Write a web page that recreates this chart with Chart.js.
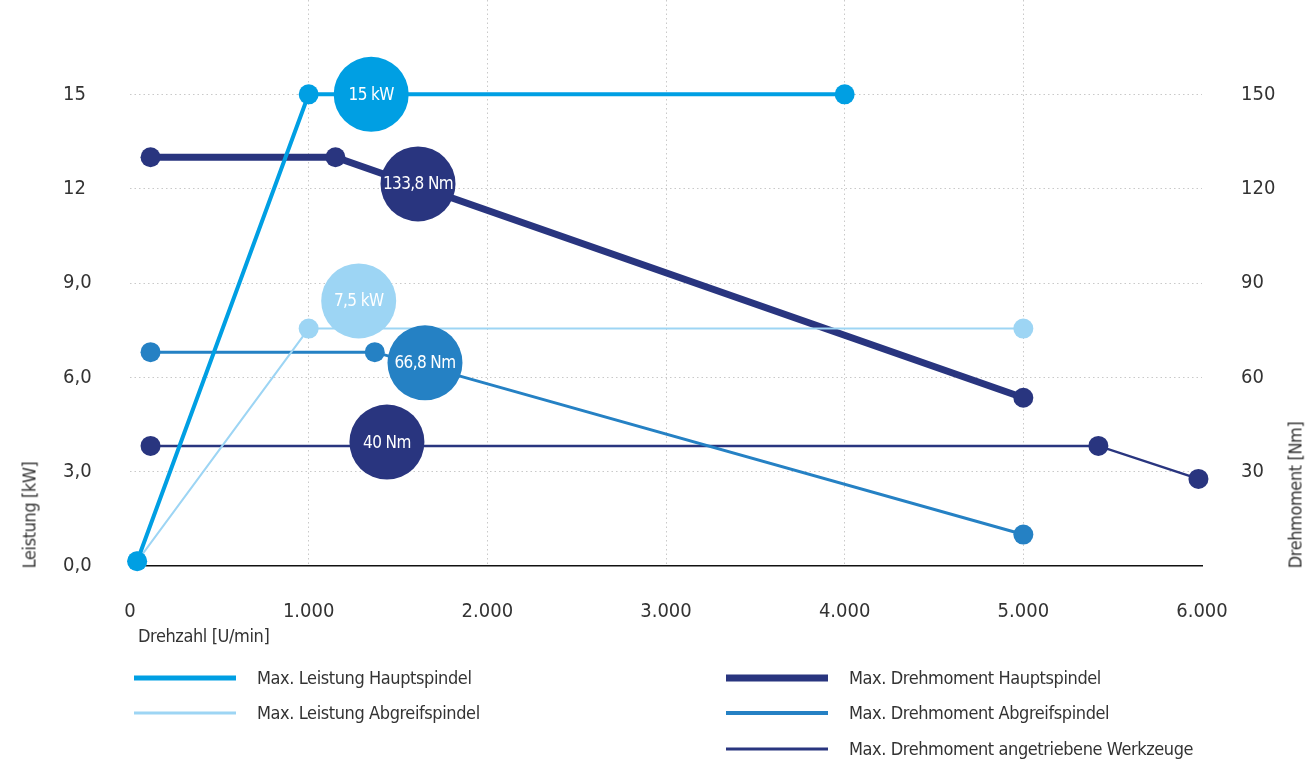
<!DOCTYPE html>
<html>
<head>
<meta charset="utf-8">
<script src="https://cdn.jsdelivr.net/npm/chart.js@4.4.1/dist/chart.umd.min.js"></script>
<style>
  body { margin:0; background:#fff; }
  #wrap { position:relative; width:1313px; height:764px; font-family:"Liberation Sans Narrow","DejaVu Sans Condensed",sans-serif; color:#333; }
  canvas { position:absolute; left:0; top:0; }
  .ttl { position:absolute; font-size:18px; letter-spacing:-0.4px; white-space:nowrap; }
  .rot { transform:translate(-50%,-50%) rotate(-90deg); }
  .leg { position:absolute; font-size:18px; letter-spacing:-0.4px; white-space:nowrap; transform:translateY(-50%); }
  .sw { position:absolute; width:102px; transform:translateY(-50%); }
</style>
</head>
<body>
<div id="wrap">
  <canvas id="chart" width="1313" height="764"></canvas>
  <div class="ttl rot" style="left:29px;top:515px">Leistung [kW]</div>
  <div class="ttl rot" style="left:1295px;top:495px">Drehmoment [Nm]</div>
  <div class="ttl" style="left:138px;top:625px">Drehzahl [U/min]</div>
  <div id="legend"></div>
</div>
<script>
// Drehzahl ticks
var xTicks = [0, 1000, 2000, 3000, 4000, 5000, 6000]
var xTickLabels = ['0', '1.000', '2.000', '3.000', '4.000', '5.000', '6.000']
var leftTicks = [0, 3, 6, 9, 12, 15]
var leftTickLabels = ['0,0', '3,0', '6,0', '9,0', '12', '15']
var rightTicks = [30, 60, 90, 120, 150]
var rightTickLabels = ['30', '60', '90', '120', '150']

// Leistung [kW]
var lHauptX = [40, 1000, 4000]
var lHauptY = [0.15, 15, 15]
var lAbgrX = [40, 1000, 5000]
var lAbgrY = [0.15, 7.55, 7.55]
// Drehmoment [Nm]
var mHauptX = [115, 1150, 5000]
var mHauptY = [130, 130, 53.5]
var mAbgrX = [115, 1370, 5000]
var mAbgrY = [68, 68, 10]
var mWerkX = [115, 5420, 5980]
var mWerkY = [38.2, 38.2, 27.7]

// Bubbles
var kwBubbleLabels = ['15 kW', '7,5 kW']
var kwBubbleX = [1350, 1280]
var kwBubbleY = [15, 8.43]
var nmBubbleLabels = ['133,8 Nm', '66,8 Nm', '40 Nm']
var nmBubbleX = [1612, 1651, 1438]
var nmBubbleY = [121.5, 64.6, 39.4]

var legendNames = ['Max. Leistung Hauptspindel', 'Max. Leistung Abgreifspindel',
  'Max. Drehmoment Hauptspindel', 'Max. Drehmoment Abgreifspindel', 'Max. Drehmoment angetriebene Werkzeuge']

var cLight = '#009fe3', cPale = '#9dd5f4', cNavy = '#29357f', cMid = '#2581c4'
var fontFam = '"Liberation Sans Narrow", "DejaVu Sans Condensed", sans-serif'

function pts(xs, ys){
  var out = []
  for (var i = 0; i < xs.length; i++) out.push({x: xs[i], y: ys[i]})
  return out
}

function lineSet(label, xs, ys, color, width, axis, order){
  return {
    label: label, data: pts(xs, ys), yAxisID: axis, order: order,
    showLine: true, borderColor: color, backgroundColor: color, borderWidth: width,
    pointRadius: 10, pointBackgroundColor: color, pointBorderWidth: 0, pointHoverRadius: 10
  }
}

var bubbleText = {
  id: 'bubbleText',
  afterDatasetsDraw: function(chart){
    var ctx = chart.ctx
    ctx.save()
    ctx.fillStyle = '#fff'
    ctx.font = '17px ' + fontFam
    ctx.letterSpacing = '-0.6px'
    ctx.textAlign = 'center'
    ctx.textBaseline = 'middle'
    chart.data.datasets.forEach(function(ds, di){
      if (!ds.texts) return
      chart.getDatasetMeta(di).data.forEach(function(el, i){
        ctx.fillText(ds.texts[i], el.x, el.y + 1)
      })
    })
    ctx.restore()
  }
}

Chart.defaults.font.family = fontFam
Chart.defaults.font.size = 20
Chart.defaults.color = '#333'

var ctx = document.getElementById('chart')
var chart = new Chart(ctx, {
  type: 'scatter',
  data: {
    datasets: [
      { data: pts(kwBubbleX, kwBubbleY), texts: kwBubbleLabels, yAxisID: 'yL', order: 0,
        pointRadius: 37.5, pointHoverRadius: 37.5, borderWidth: 0,
        pointBackgroundColor: [cLight, cPale] },
      { data: pts(nmBubbleX, nmBubbleY), texts: nmBubbleLabels, yAxisID: 'yR', order: 0,
        pointRadius: 37.5, pointHoverRadius: 37.5, borderWidth: 0,
        pointBackgroundColor: [cNavy, cMid, cNavy] },
      lineSet(legendNames[0], lHauptX, lHauptY, cLight, 4, 'yL', 1),
      lineSet(legendNames[1], lAbgrX, lAbgrY, cPale, 2, 'yL', 2),
      lineSet(legendNames[2], mHauptX, mHauptY, cNavy, 7, 'yR', 3),
      lineSet(legendNames[3], mAbgrX, mAbgrY, cMid, 3, 'yR', 4),
      lineSet(legendNames[4], mWerkX, mWerkY, cNavy, 2.5, 'yR', 5)
    ]
  },
  options: {
    responsive: false,
    animation: false,
    clip: false,
    layout: { autoPadding: false, padding: { left: 63, right: 0, top: 0, bottom: 0 } },
    plugins: { legend: { display: false }, tooltip: { enabled: false } },
    scales: {
      x: {
        type: 'linear', min: 0, max: 6000,
        afterFit: function(s){ s.height = 198; s.paddingLeft = 0; s.paddingRight = 0 },
        afterBuildTicks: function(s){ s.ticks = xTicks.map(function(v){ return {value: v} }) },
        ticks: { padding: 34, callback: function(v){ return xTickLabels[xTicks.indexOf(v)] } },
        grid: { drawTicks: false, lineWidth: 1,
          color: function(c){ return (c.tick && (c.tick.value === 0 || c.tick.value === 6000)) ? 'rgba(0,0,0,0)' : '#c9c9c9' } },
        border: { display: true, color: '#111', width: 1.5, dash: [1.5, 3] }
      },
      yL: {
        type: 'linear', position: 'left', min: 0, max: 18,
        afterFit: function(s){ s.width = 67; s.paddingTop = 0; s.paddingBottom = 0 },
        afterBuildTicks: function(s){ s.ticks = leftTicks.map(function(v){ return {value: v} }) },
        ticks: { crossAlign: 'far', callback: function(v){ return leftTickLabels[leftTicks.indexOf(v)] } },
        grid: { drawTicks: false, lineWidth: 1,
          color: function(c){ return (c.tick && c.tick.value === 0) ? 'rgba(0,0,0,0)' : '#c9c9c9' } },
        border: { display: false, dash: [1.5, 3] }
      },
      yR: {
        type: 'linear', position: 'right', min: 0, max: 180,
        afterFit: function(s){ s.width = 111; s.paddingTop = 0; s.paddingBottom = 0 },
        afterBuildTicks: function(s){ s.ticks = rightTicks.map(function(v){ return {value: v} }) },
        ticks: { padding: 39, callback: function(v){ return rightTickLabels[rightTicks.indexOf(v)] } },
        grid: { display: false, drawTicks: false },
        border: { display: false }
      }
    }
  },
  plugins: [bubbleText]
})

// legend below the chart
var legendPos = [
  {x: 134, y: 678, w: 5, c: cLight},
  {x: 134, y: 713, w: 3, c: cPale},
  {x: 726, y: 678, w: 7, c: cNavy},
  {x: 726, y: 713, w: 4, c: cMid},
  {x: 726, y: 749, w: 3, c: cNavy}
]
var leg = document.getElementById('legend')
legendPos.forEach(function(p, i){
  var sw = document.createElement('div')
  sw.className = 'sw'
  sw.style.left = p.x + 'px'
  sw.style.top = p.y + 'px'
  sw.style.height = p.w + 'px'
  sw.style.background = p.c
  leg.appendChild(sw)
  var t = document.createElement('div')
  t.className = 'leg'
  t.style.left = (p.x + 123) + 'px'
  t.style.top = (p.y - 1) + 'px'
  t.textContent = legendNames[i]
  leg.appendChild(t)
})
</script>
</body>
</html>
